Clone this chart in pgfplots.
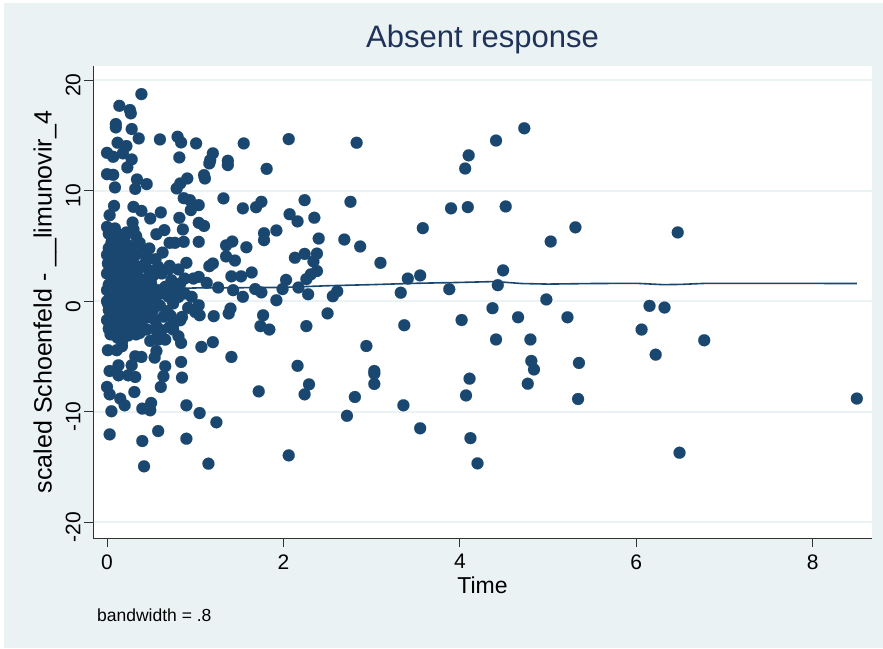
\documentclass[border=0pt]{standalone}
\usepackage{fontspec}
\setmainfont{Liberation Sans}
\usepackage{pgfplots}
\usepackage{pgfplotstable}
\pgfplotsset{compat=1.18}
\definecolor{bgc}{RGB}{234,242,243}
\definecolor{navy}{RGB}{26,71,111}
\definecolor{axc}{RGB}{50,50,50}
\definecolor{titc}{RGB}{30,50,90}
\pgfplotstableread{
x y
8.50 -8.80
6.47 6.22
6.49 -13.70
6.77 -3.53
6.15 -0.42
6.32 -0.57
6.06 -2.56
6.22 -4.83
5.31 6.68
5.35 -5.58
5.34 -8.84
5.03 5.40
4.98 0.16
5.22 -1.45
4.73 15.64
4.52 8.57
4.49 2.79
4.43 1.45
4.41 14.53
4.37 -0.63
4.41 -3.46
4.66 -1.45
4.80 -3.46
4.81 -5.40
4.84 -6.17
4.77 -7.46
4.10 13.19
4.06 12.00
3.90 8.40
4.09 8.51
4.02 -1.70
4.11 -7.00
4.07 -8.52
4.12 -12.38
4.20 -14.66
3.88 1.09
3.55 -11.49
3.33 0.77
3.37 -2.17
3.41 2.05
3.55 2.33
3.58 6.61
3.10 3.47
2.94 -4.05
3.03 -6.31
3.03 -6.55
3.03 -7.48
2.81 -8.66
2.72 -10.36
3.36 -9.41
2.83 14.33
2.76 8.99
2.69 5.58
2.87 4.95
2.61 0.90
2.56 0.45
2.50 -1.10
2.06 14.66
1.55 14.27
1.81 11.97
2.24 9.14
2.07 7.87
2.16 7.22
2.35 7.55
1.54 8.40
1.69 8.50
1.75 8.99
1.92 6.40
1.78 6.15
1.78 5.52
1.58 4.88
2.40 5.67
2.13 3.93
2.24 4.28
2.38 4.31
2.34 3.60
2.38 2.73
2.31 2.43
2.26 2.00
2.03 1.93
1.64 2.60
1.52 2.25
1.41 2.25
1.99 1.10
2.17 1.24
2.28 0.63
1.68 1.10
1.75 0.80
1.54 0.40
1.92 0.09
1.43 1.00
1.77 -1.27
1.74 -2.25
1.84 -2.56
2.26 -2.25
1.41 -5.04
2.16 -5.84
1.72 -8.15
2.29 -7.52
2.24 -8.42
2.06 -13.94
1.32 9.30
1.37 12.70
1.37 12.31
1.35 5.05
1.42 5.40
1.35 4.05
1.45 3.68
1.40 -0.66
1.38 -1.11
1.21 -1.35
1.20 -3.70
1.07 -4.13
1.24 -10.95
1.15 -14.69
1.05 -10.11
0.90 -12.43
0.58 -11.74
0.90 -9.41
0.42 -14.93
0.40 -12.64
0.03 -12.04
0.05 -9.95
0.40 -9.71
0.49 -9.86
0.50 -9.20
0.15 -8.81
0.20 -9.41
0.31 -8.21
0.00 -7.75
0.03 -8.42
0.61 -7.75
0.85 -6.91
0.84 -5.49
0.64 -6.79
0.66 -5.88
0.32 -6.85
0.24 -6.70
0.03 -6.31
0.13 -6.70
0.13 -5.79
0.28 -5.79
0.32 -4.98
0.39 -5.04
0.56 -4.50
0.54 -5.10
0.01 -4.43
0.11 -4.43
0.17 -4.07
0.17 -3.68
0.84 -3.77
0.49 -3.59
0.58 -3.47
0.66 -3.47
0.37 -2.87
0.03 -2.26
0.17 -2.62
0.45 -2.56
0.56 -2.26
0.75 -2.56
0.81 -3.17
0.35 -1.36
0.83 -1.72
1.05 -1.27
0.85 -1.42
0.77 -1.87
0.52 -0.81
0.39 -2.33
0.62 -2.62
0.71 -2.33
1.00 -0.97
1.04 -0.36
0.39 18.73
0.14 17.67
0.26 17.29
0.27 16.99
0.10 16.02
0.10 15.72
0.28 15.57
0.36 14.72
0.60 14.63
0.80 14.87
0.84 14.36
1.01 14.27
0.12 14.33
0.22 14.03
0.00 13.42
0.07 13.06
0.18 13.37
0.28 12.82
0.23 12.10
0.82 13.00
1.20 13.37
1.17 12.76
1.16 12.46
1.10 11.40
1.11 11.10
0.00 11.49
0.07 11.43
0.09 10.29
0.34 11.01
0.45 10.59
0.32 10.16
0.79 10.20
0.83 10.65
0.91 11.10
0.87 9.32
0.94 9.14
0.95 8.24
1.04 8.69
0.08 8.62
0.03 7.78
0.30 8.53
0.39 8.17
0.49 7.48
0.61 8.03
0.29 7.12
0.82 7.54
0.86 6.49
1.04 7.09
1.10 6.81
0.00 6.72
0.09 6.58
0.22 6.22
0.56 6.06
0.65 6.43
0.71 5.28
0.77 5.28
0.87 5.37
1.04 5.37
0.37 5.28
0.05 5.28
0.48 4.77
0.01 3.41
1.16 3.17
1.20 3.41
0.90 3.47
0.71 3.20
0.81 2.87
0.58 3.11
0.47 3.86
0.32 4.16
1.26 1.24
1.13 1.66
1.04 2.20
0.88 2.05
0.88 0.70
0.81 0.39
0.64 0.70
0.73 1.90
0.62 2.51
0.45 2.05
0.02 4.80
0.08 4.50
0.14 4.90
0.20 4.40
0.05 3.90
0.12 3.60
0.18 3.90
0.25 3.50
0.03 2.90
0.09 3.10
0.15 2.70
0.22 3.00
0.30 2.60
0.06 2.20
0.12 1.90
0.19 2.30
0.27 1.80
0.35 2.20
0.02 1.50
0.08 1.20
0.14 1.60
0.21 1.10
0.29 1.30
0.38 1.50
0.04 0.60
0.10 0.30
0.17 0.80
0.24 0.40
0.32 0.70
0.42 0.90
0.01 -0.20
0.07 -0.60
0.13 -0.10
0.20 -0.70
0.27 -0.30
0.36 -0.50
0.05 -1.20
0.11 -1.60
0.18 -1.10
0.25 -1.80
0.31 -1.20
0.44 -1.50
0.08 -2.10
0.14 -2.40
0.22 -2.00
0.28 -2.60
0.04 -3.00
0.12 -3.30
0.24 -3.10
0.50 1.60
0.55 0.20
0.60 -0.40
0.68 -0.90
0.53 -1.60
0.70 0.40
0.48 2.80
0.40 3.10
0.55 3.80
0.63 4.40
0.40 4.50
0.06 5.60
0.16 5.50
0.26 5.00
0.33 5.90
0.44 4.10
0.75 -0.20
0.92 -0.60
0.96 0.40
0.66 1.30
0.78 1.00
0.98 2.05
0.83 1.60
0.00 4.20
0.05 4.40
0.10 4.00
0.16 4.30
0.23 4.00
0.28 4.50
0.00 2.50
0.04 2.60
0.10 2.50
0.17 2.10
0.24 2.50
0.33 3.20
0.00 1.00
0.05 0.90
0.11 0.90
0.17 1.30
0.25 1.00
0.35 1.10
0.00 0.00
0.04 0.20
0.09 -0.20
0.16 0.20
0.22 -0.10
0.30 0.10
0.39 0.30
0.02 -0.80
0.09 -1.00
0.15 -0.70
0.23 -1.20
0.33 -0.80
0.41 -0.90
0.00 -1.70
0.06 -1.60
0.13 -1.80
0.20 -1.50
0.28 -1.70
0.37 -2.00
0.02 -2.50
0.10 -2.80
0.19 -2.90
0.33 -3.00
0.45 -0.20
0.48 0.50
0.46 1.30
0.58 1.00
0.64 -1.40
0.57 -2.90
0.72 -1.30
0.70 2.90
0.43 3.40
0.52 2.30
0.02 6.10
0.12 6.10
0.30 6.50
0.20 5.80
}\pts
\pgfplotstableread{
x y
0.00 0.90
0.30 1.00
0.60 1.10
1.00 1.20
1.50 1.22
2.00 1.25
2.50 1.40
3.00 1.50
3.50 1.62
4.00 1.70
4.40 1.78
4.70 1.60
5.00 1.55
5.50 1.60
6.00 1.62
6.30 1.50
6.50 1.52
6.80 1.62
7.50 1.62
8.50 1.60
}\lws
\begin{document}
\begin{tikzpicture}
\useasboundingbox (0,0) rectangle (883pt,648pt);
\fill[white] (0,0) rectangle (883pt,648pt);
\fill[bgc] (4pt,0) rectangle (883pt,645pt);
\begin{axis}[
 at={(93pt,110pt)}, anchor=south west,
 scale only axis, width=779pt, height=472pt,
 xmin=-0.1587, xmax=8.672, ymin=-21.41, ymax=21.27,
 axis background/.style={fill=white},
 axis x line*=bottom, axis y line*=left,
 axis line style={-, axc, line width=1pt},
 xtick={0,2,4,6,8}, xticklabels={0,2,4,6,8},
 ytick={-20,-10,0,10,20}, yticklabels={-20,-10,0,10,20},
 tick align=outside, major tick length=9pt,
 tick style={axc, line width=1pt},
 ymajorgrids, major grid style={bgc, line width=2pt},
 ticklabel style={font=\fontsize{21}{25}\selectfont, black},
 xticklabel style={yshift=-4pt},
 yticklabel style={rotate=90, anchor=south, xshift=-5pt},
 xlabel={Time}, ylabel={scaled Schoenfeld - \_\_limunovir\_4},
 xlabel style={font=\fontsize{23}{27}\selectfont, at={(axis description cs:0.5,-0.0996)}, anchor=center},
 ylabel style={font=\fontsize{25}{29}\selectfont, at={(axis description cs:-0.0616,0.5)}, anchor=center},
 title={Absent response},
 title style={at={(axis description cs:0.5,1.0445)}, anchor=center, font=\fontsize{31}{36}\selectfont, text=titc},
 clip=false,
]
\addplot[navy, only marks, mark=*, mark size=6pt, mark options={fill=navy, draw=navy, line width=0.1pt}] table[x=x,y=y] {\pts};
\addplot[navy, line width=1.6pt, no marks] table[x=x,y=y] {\lws};
\node[anchor=west, inner sep=0pt, font=\fontsize{17.5}{20}\selectfont] at (axis description cs:0.0051,-0.163) {bandwidth = .8};
\end{axis}
\end{tikzpicture}
\end{document}
